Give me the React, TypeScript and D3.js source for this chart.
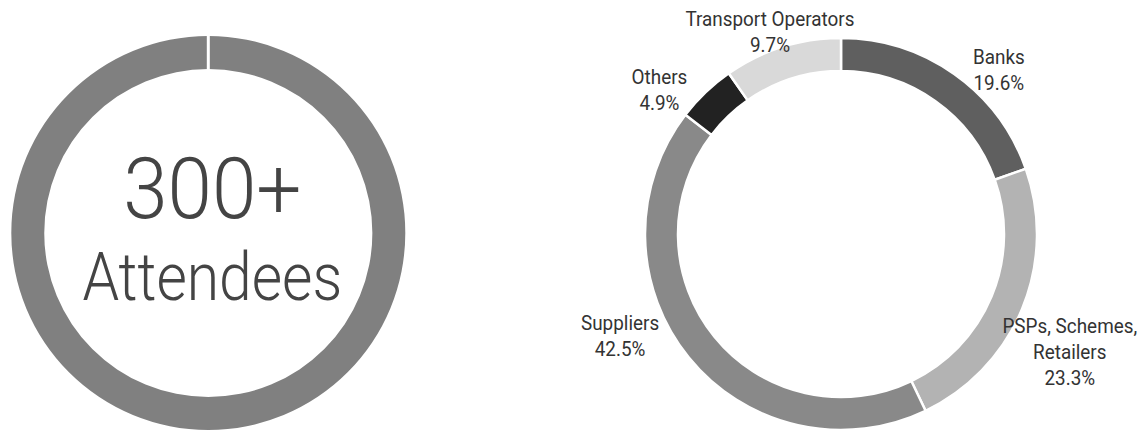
import React from 'react';
import * as d3 from 'd3';

// attendee breakdown, clockwise from 12 o'clock
const categories = ['Banks', 'PSPs, Schemes, Retailers', 'Suppliers', 'Others', 'Transport Operators'];
const shares = [19.6, 23.3, 42.5, 4.9, 9.7];
const sliceColors = ['#5f5f5f', '#b3b3b3', '#898989', '#222222', '#d9d9d9'];
// label text lines (PSPs label wraps)
const labelLines = [['Banks'], ['PSPs, Schemes,', 'Retailers'], ['Suppliers'], ['Others'], ['Transport Operators']];

const totalLabel = ['300+', 'Attendees'];
const totalValue = [300];

// where the label block centres sit (degrees clockwise from top, radius from centre)
const labelPlacement = [
  { angle: 43.8, r: 228 },
  { angle: 117.1, r: 257 },
  { angle: 245.4, r: 243 },
  { angle: 308.5, r: 232 },
  { angle: 340.7, r: 215 },
];

const FONT = 'Roboto, "Noto Sans", sans-serif';
const W = 1145;
const H = 432;

const App = () => {
  const pie = d3.pie<number>().sort(null).value(d => d);

  // left ring
  const left = { cx: 208.3, cy: 233, outer: 197, inner: 164 };
  const ringArc = d3.arc<d3.PieArcDatum<number>>().innerRadius(left.inner).outerRadius(left.outer);
  const ringData = pie(totalValue);
  const seamIn = d3.pointRadial(0, left.inner - 1);
  const seamOut = d3.pointRadial(0, left.outer + 1);

  // right donut
  const right = { cx: 841, cy: 234, outer: 196, inner: 163 };
  const arc = d3.arc<d3.PieArcDatum<number>>().innerRadius(right.inner).outerRadius(right.outer);
  const pieData = pie(shares);

  const lineH = 26;
  const capH = 15;
  const sx = 0.9;

  return (
    <svg xmlns="http://www.w3.org/2000/svg" width={W} height={H}
      style={{ position: 'absolute', left: 0, top: 0, background: '#fff' }}>
      <g transform={`translate(${left.cx}, ${left.cy})`}>
        {ringData.map((d, i) => (
          <path key={i} d={ringArc(d) || ''} fill="#808080" />
        ))}
        <line x1={seamIn[0]} y1={seamIn[1]} x2={seamOut[0]} y2={seamOut[1]} stroke="#fff" strokeWidth={3} />
        <g fontFamily={FONT} fontWeight={300} fill="#444" textAnchor="middle">
          <text transform={`translate(4, -15) scale(0.93, 1)`} fontSize={86}>{totalLabel[0]}</text>
          <text transform={`translate(4, 67) scale(0.89, 1)`} fontSize={66}>{totalLabel[1]}</text>
        </g>
      </g>

      <g transform={`translate(${right.cx}, ${right.cy})`}>
        {pieData.map((d, i) => (
          <path key={i} d={arc(d) || ''} fill={sliceColors[i]} stroke="#fff" strokeWidth={2.5} />
        ))}
        <g fontFamily={FONT} fontSize={21} fill="#333" textAnchor="middle">
          {pieData.map((d, i) => {
            const p = labelPlacement[i];
            const [x, y] = d3.pointRadial((p.angle * Math.PI) / 180, p.r);
            const lines = [...labelLines[i], `${d3.format('.1f')(shares[i])}%`];
            const blockH = capH + (lines.length - 1) * lineH;
            const y0 = y - blockH / 2 + capH;
            return (
              <text key={categories[i]} transform={`translate(${x}, ${y0}) scale(${sx}, 1)`}>
                {lines.map((t, j) => (
                  <tspan key={j} x={0} y={j * lineH}>{t}</tspan>
                ))}
              </text>
            );
          })}
        </g>
      </g>
    </svg>
  );
};

export default App;
